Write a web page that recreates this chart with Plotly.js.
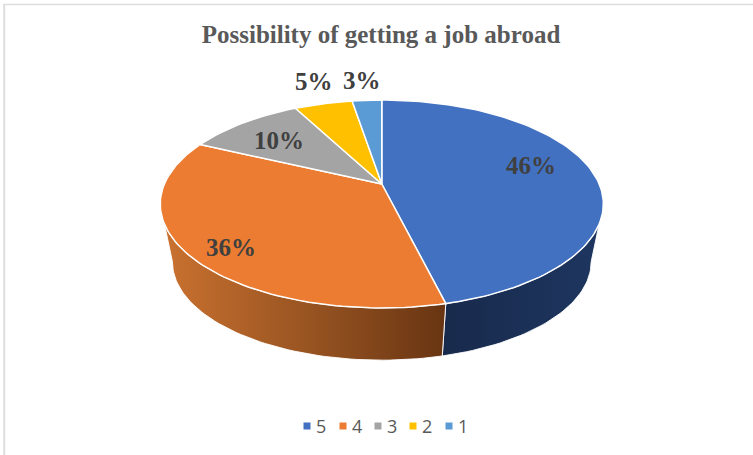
<!DOCTYPE html>
<html><head><meta charset="utf-8">
<script src="https://cdn.plot.ly/plotly-3.0.1.min.js"></script>
<style>html,body{margin:0;padding:0;background:#fff}#c{width:753px;height:455px}</style></head>
<body><div id="c"></div>
<script>
const categories = ["5","4","3","2","1"];
const shares = [46.2,35.9,10.3,5.1,2.6];
const colors = ["#4271c1","#eb7c31","#a4a4a4","#ffc000","#5b9bd5"];
const wallGradients = [
  [[0,"#182a4c"],[1,"#1e3660"]],
  [[0,"#cb7230"],[0.5,"#9a5522"],[1,"#683512"]]
];
const titleText = "Possibility of getting a job abroad";
const labelSpots = [[531,165.5],[231,247.5],[279,140.5],[314,81.5],[362,80.5]];
const legendKeyX = [307,343,378,413,449];

// Perspective projection of the pie disc onto the page
const K = 0.1923, A = 217.4, B = 100.15, CX = 381.8, CY = 184;
const WALL = {scale:0.945, cy:243};
function proj(deg, top){
  const t = deg*Math.PI/180, u = Math.sin(t), v = Math.cos(t), w = 1+K*v;
  const s = top?1:WALL.scale, cy = top?CY:WALL.cy;
  return [CX+s*A*u/w, cy-s*B*v/w];
}
function arc(a0,a1,top){
  const n = Math.max(2,Math.ceil(Math.abs(a1-a0)/1.5)), out=[];
  for(let i=0;i<=n;i++) out.push(proj(a0+(a1-a0)*i/n,top));
  return out;
}
const total = shares.reduce((a,b)=>a+b,0);
const bounds=[0]; shares.forEach(v=>bounds.push(bounds[bounds.length-1]+v/total*360));

const R = 101.09, L = 258.91; // silhouette angles of the wall
const traces = [];
// side walls of the two slices that face the viewer
[[R,bounds[1],0],[bounds[1],L,1]].forEach(([a0,a1,i])=>{
  const pts = arc(a0,a1,true).concat(arc(a1,a0,false));
  pts.push(pts[0]);
  traces.push({type:"scatter",mode:"lines",x:pts.map(p=>p[0]),y:pts.map(p=>p[1]),
    fill:"toself",fillgradient:{type:"horizontal",colorscale:wallGradients[i]},
    line:{color:"rgba(255,255,255,0.9)",width:1},showlegend:false,hoverinfo:"skip"});
});
// top faces
shares.forEach((v,i)=>{
  const pts = [[CX,CY]].concat(arc(bounds[i],bounds[i+1],true)); pts.push([CX,CY]);
  traces.push({type:"scatter",mode:"lines",name:categories[i],x:pts.map(p=>p[0]),y:pts.map(p=>p[1]),
    fill:"toself",fillcolor:colors[i],line:{color:"#ffffff",width:1.5},showlegend:false,
    text:Math.round(shares[i])+"%",hoverinfo:"text"});
});
// legend keys
categories.forEach((c,i)=>{
  traces.push({type:"scatter",mode:"markers",name:c,x:[legendKeyX[i]],y:[426],
    marker:{symbol:"square",size:7,color:colors[i]},showlegend:false,hoverinfo:"skip"});
});
const layout = {
  width:753,height:455,margin:{l:0,r:0,t:0,b:0},paper_bgcolor:"#fff",plot_bgcolor:"#fff",
  xaxis:{visible:false,range:[0,753],fixedrange:true},
  yaxis:{visible:false,range:[455,0],fixedrange:true},
  title:{text:"<b>"+titleText+"</b>",x:381/753,xanchor:"center",y:1-34/455,yanchor:"middle",
    font:{family:"Liberation Serif",size:25,color:"#595959"}},
  showlegend:false,
  shapes:[
    {type:"line",xref:"x",yref:"y",x0:3.4,x1:753,y0:4.5,y1:4.5,line:{color:"#dedede",width:1.5}},
    {type:"line",xref:"x",yref:"y",x0:4.2,x1:4.2,y0:4,y1:455,line:{color:"#dedede",width:2}}
  ],
  annotations:shares.map((v,i)=>({x:labelSpots[i][0],y:labelSpots[i][1],xref:"x",yref:"y",showarrow:false,
    text:"<b>"+Math.round(v)+"%</b>",font:{family:"Liberation Serif",size:25,color:"#404040"},xanchor:"center",yanchor:"middle"}))
   .concat(categories.map((c,i)=>({x:legendKeyX[i]+14,y:426,xref:"x",yref:"y",showarrow:false,
    text:c,font:{family:"Open Sans",size:18,color:"#595959"},xanchor:"center",yanchor:"middle"})))
};
Plotly.newPlot("c",traces,layout,{displayModeBar:false,responsive:false});
</script></body></html>
